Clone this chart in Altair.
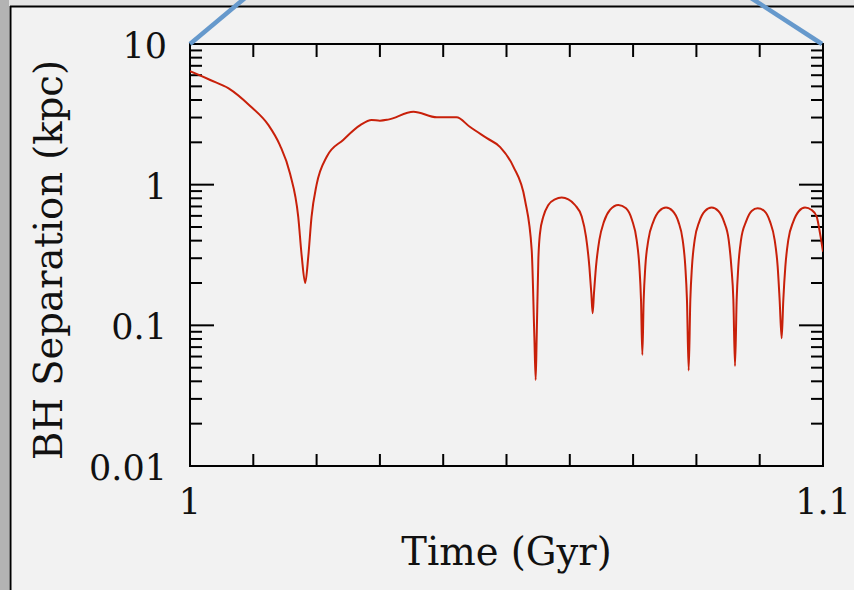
import altair as alt
import pandas as pd

# ---- data ----
times = [1.0000, 1.0032, 1.0061, 1.0095, 1.0124, 1.0142, 1.0158, 1.0171, 1.01765, 1.0182,
         1.01869, 1.0192, 1.0200, 1.0216, 1.0242, 1.0269, 1.0287, 1.0300, 1.0313, 1.0353,
         1.0390, 1.0421, 1.0442, 1.0469, 1.0490, 1.05108, 1.05292, 1.05398, 1.05440, 1.05461,
         1.05477, 1.05503, 1.05529, 1.05582, 1.05661, 1.05766, 1.05872, 1.05977, 1.06082,
         1.06188, 1.06256, 1.06309, 1.06340, 1.06361,
         1.06382, 1.06414, 1.06467, 1.06540, 1.06635, 1.06767, 1.06888, 1.06983, 1.07056,
         1.07099, 1.07125, 1.07146,
         1.07167, 1.07193, 1.07241, 1.07320, 1.07414, 1.07520, 1.07625, 1.07715, 1.07783,
         1.07825, 1.07851, 1.07878,
         1.07904, 1.07930, 1.07973, 1.08046, 1.08136, 1.08241, 1.08346, 1.08436, 1.08510,
         1.08552, 1.08584, 1.08610,
         1.08636, 1.08662, 1.08705, 1.08784, 1.08873, 1.08968, 1.09073, 1.09163, 1.09236,
         1.09284, 1.09315, 1.09347,
         1.09373, 1.09405, 1.09452, 1.09531, 1.09621, 1.09716, 1.09821, 1.09900, 1.09953,
         1.10000]
separation = [6.4, 5.55, 4.84, 3.63, 2.65, 1.91, 1.2, 0.59, 0.31, 0.2,
              0.31, 0.59, 1.0, 1.58, 2.08, 2.65, 2.88, 2.85, 2.90, 3.30,
              3.01, 3.01, 2.58, 2.14, 1.85, 1.343, 0.778, 0.3435, 0.0831, 0.0409,
              0.0831, 0.2916, 0.451, 0.593, 0.717, 0.787, 0.809, 0.787, 0.717,
              0.593, 0.427, 0.2615, 0.169, 0.1218,
              0.169, 0.2615, 0.405, 0.546, 0.661, 0.717, 0.679, 0.561, 0.405,
              0.2615, 0.1515, 0.0616,
              0.1515, 0.2615, 0.405, 0.546, 0.650, 0.687, 0.650, 0.546, 0.405,
              0.2615, 0.1515, 0.0477,
              0.1515, 0.2615, 0.405, 0.546, 0.650, 0.687, 0.650, 0.546, 0.405,
              0.2615, 0.1515, 0.0514,
              0.1515, 0.2615, 0.405, 0.546, 0.650, 0.679, 0.650, 0.546, 0.405,
              0.2615, 0.1515, 0.0809,
              0.1515, 0.2615, 0.405, 0.546, 0.650, 0.687, 0.661, 0.593, 0.451,
              0.334]

x_label_values = [1.0, 1.1]
y_label_values = [0.01, 0.1, 1, 10]
x_tick_values = [1.01, 1.02, 1.03, 1.04, 1.05, 1.06, 1.07, 1.08, 1.09]
y_major_ticks = [0.1, 1]
y_minor_ticks = [0.02, 0.03, 0.04, 0.05, 0.06, 0.07, 0.08, 0.09,
                 0.2, 0.3, 0.4, 0.5, 0.6, 0.7, 0.8, 0.9,
                 2, 3, 4, 5, 6, 7, 8, 9]
x_title = "Time (Gyr)"
y_title = "BH Separation (kpc)"

# ---- style ----
W, H = 633, 422
FONT = "DejaVu Serif"
RED = "#c8200a"
BLUE = "#6699cc"
BG = "#f2f2f2"
TXT = "#111111"

xscale = alt.Scale(domain=[1.0, 1.1], nice=False, zero=False)
yscale = alt.Scale(type="log", domain=[0.01, 10], nice=False)

df = pd.DataFrame({"Time": times, "Sep": separation})
one = pd.DataFrame({"k": [0]})

line = alt.Chart(df).mark_line(color=RED, strokeWidth=2, interpolate="monotone", clip=True).encode(
    x=alt.X("Time:Q", scale=xscale, axis=None),
    y=alt.Y("Sep:Q", scale=yscale, axis=None),
)

xt = pd.DataFrame({"tx": x_tick_values})
ymaj = pd.DataFrame({"ty": y_major_ticks})
ymin = pd.DataFrame({"ty": y_minor_ticks})

def xticks(y0, y1):
    return alt.Chart(xt).mark_rule(color="black", strokeWidth=2).encode(
        x=alt.X("tx:Q", scale=xscale, axis=None), y=alt.value(y0), y2=alt.value(y1))

def yticks(data, x0, x1):
    return alt.Chart(data).mark_rule(color="black", strokeWidth=2).encode(
        y=alt.Y("ty:Q", scale=yscale, axis=None), x=alt.value(x0), x2=alt.value(x1))

ticks = [xticks(H, H - 12), xticks(0, 13),
         yticks(ymaj, 0, 24), yticks(ymin, 0, 12),
         yticks(ymaj, W, W - 24), yticks(ymin, W, W - 12)]

# tick labels (real text, positioned by the scales)
xlab = alt.Chart(pd.DataFrame({"lx": x_label_values})).mark_text(
    font=FONT, fontSize=35, color=TXT, align="center", baseline="alphabetic").encode(
    x=alt.X("lx:Q", scale=xscale, axis=None), y=alt.value(H + 48),
    text=alt.Text("lx:Q", format="~g"))
ylab = alt.Chart(pd.DataFrame({"ly": y_label_values})).mark_text(
    font=FONT, fontSize=35, color=TXT, align="right", baseline="alphabetic", dy=14).encode(
    y=alt.Y("ly:Q", scale=yscale, axis=None), x=alt.value(-23),
    text=alt.Text("ly:Q", format="~g"))
xtitle = alt.Chart(one).mark_text(
    font=FONT, fontSize=38.5, color=TXT, align="center", baseline="alphabetic").encode(
    x=alt.value(W / 2), y=alt.value(520.5), text=alt.value(x_title))
ytitle = alt.Chart(one).mark_text(
    font=FONT, fontSize=38.5, color=TXT, align="center", baseline="alphabetic", angle=270).encode(
    x=alt.value(-128), y=alt.value(216), text=alt.value(y_title))

left_strip = alt.Chart(one).mark_rect(color="#b3b3b3").encode(
    x=alt.value(-190), x2=alt.value(-181), y=alt.value(-44), y2=alt.value(546))
top_strip = alt.Chart(one).mark_rect(color="#e4e4e4").encode(
    x=alt.value(-181), x2=alt.value(664), y=alt.value(-44), y2=alt.value(-38))
frame_left = alt.Chart(one).mark_rule(color="black", strokeWidth=2).encode(
    x=alt.value(-179.5), x2=alt.value(-179.5), y=alt.value(-38), y2=alt.value(546))
frame_top = alt.Chart(one).mark_rule(color="black", strokeWidth=2).encode(
    x=alt.value(-180), x2=alt.value(664), y=alt.value(-37.5), y2=alt.value(-37.5))
blue_left = alt.Chart(one).mark_rule(color=BLUE, strokeWidth=4.5).encode(
    x=alt.value(0), y=alt.value(0), x2=alt.value(55), y2=alt.value(-46))
blue_right = alt.Chart(one).mark_rule(color=BLUE, strokeWidth=4.5).encode(
    x=alt.value(632), y=alt.value(0), x2=alt.value(561), y2=alt.value(-46))

chart = alt.layer(
    left_strip, top_strip, frame_left, frame_top, *ticks, line,
    xlab, ylab, xtitle, ytitle, blue_left, blue_right
).properties(
    width=W, height=H,
    autosize=alt.AutoSizeParams(type="none"),
    padding={"left": 190, "top": 44, "right": 31, "bottom": 124},
    background=BG,
).configure_view(stroke="black", strokeWidth=2)

chart.save("out.html", embed_options={"renderer": "svg", "actions": False})
